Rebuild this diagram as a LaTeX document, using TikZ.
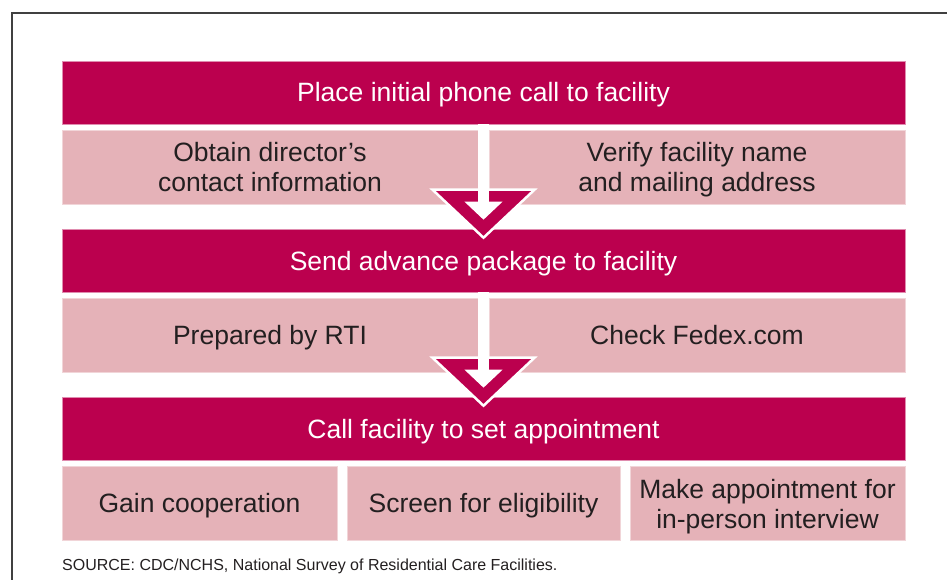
\documentclass[tikz,border=0pt]{standalone}
\usepackage{fontspec}
\setmainfont{Liberation Sans}
\usetikzlibrary{arrows.meta,positioning}
\definecolor{rcfdark}{RGB}{187,0,78}
\definecolor{rcflight}{RGB}{229,178,184}
\definecolor{rcftext}{RGB}{35,31,32}
\tikzset{>=latex}

\begin{document}
\begin{tikzpicture}[x=1pt,y=-1pt,
   stagebar/.style={fill=rcfdark,draw=rcfdark!45!white,line width=0.6pt,text=white,
      minimum width=843pt,minimum height=63pt,inner sep=0pt,text height=19pt,text depth=0pt,
      font=\fontsize{26.5}{30}\selectfont},
   taskbox/.style={fill=rcflight,draw=rcflight!55!white,line width=0.6pt,text=rcftext,
      minimum height=74pt,inner sep=0pt,align=center,text height=19pt,text depth=0pt,
      font=\fontsize{26.5}{30}\selectfont},
   twoline/.style={text height=50pt},
   flowmark/.style={fill=rcfdark,draw=white,line width=2.5pt,line join=miter},
   flowline/.style={draw=white,line width=10.5pt,-{Triangle[width=37pt,length=18pt]}},
]
\useasboundingbox (0,0) rectangle (947,580);
\draw[line width=1.5pt,black!75] (12,580) -- (12,13) -- (947,13);

% stage 1
\node[stagebar] (call) at (483.5,92.5) {Place initial phone call to facility};
\node[taskbox,twoline,minimum width=416pt] (director) at (270,167) {Obtain director’s\\contact information};
\node[taskbox,twoline,minimum width=416pt] (verify) at (697,167) {Verify facility name\\and mailing address};

% stage 2
\node[stagebar] (package) at (483.5,260.5) {Send advance package to facility};
\node[taskbox,minimum width=416pt] (rti) at (270,335) {Prepared by RTI};
\node[taskbox,minimum width=416pt] (fedex) at (697,335) {Check Fedex.com};

% stage 3
\node[stagebar] (appoint) at (483.5,428.5) {Call facility to set appointment};
\node[taskbox,minimum width=275pt] (gain) at (199.5,503) {Gain cooperation};
\node[taskbox,minimum width=273pt] (screen) at (483.5,503) {Screen for eligibility};
\node[taskbox,twoline,minimum width=275pt] (make) at (767.5,503) {Make appointment for\\in-person interview};

% arrows between stages
\foreach \from/\to in {call/package,package/appoint}{
  \filldraw[flowmark] ([xshift=-51pt,yshift=39pt]\to.north) -- ([xshift=51pt,yshift=39pt]\to.north)
     -- ([yshift=-9pt]\to.north) -- cycle;
  \coordinate (\to-tip) at ([yshift=9pt]\to.north);
  \draw[flowline] (\from.south) -- (\to-tip);
}

\node[anchor=base west,inner sep=0pt,text=rcftext,font=\fontsize{16}{19}\selectfont] (source) at (62,570)
   {SOURCE: CDC/NCHS, National Survey of Residential Care Facilities.};
\end{tikzpicture}
\end{document}
